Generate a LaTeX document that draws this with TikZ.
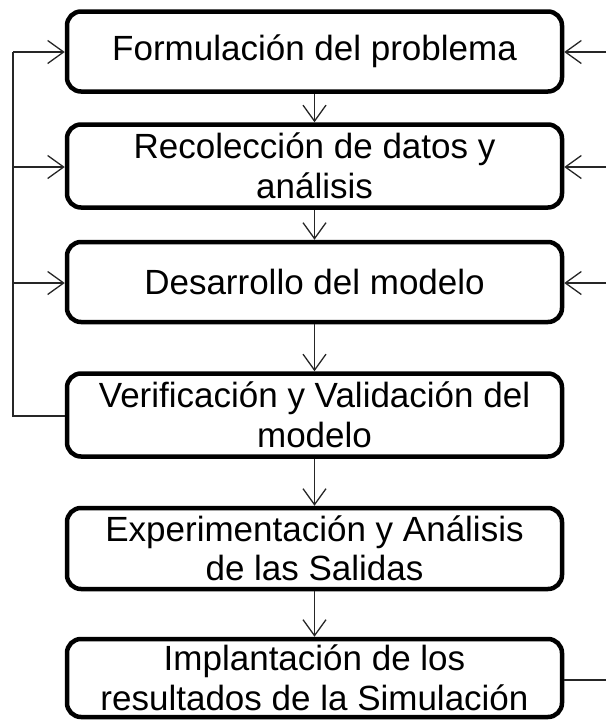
\documentclass[tikz,border=0pt]{standalone}
\usepackage{fontspec}
\setmainfont{Liberation Sans}
\usetikzlibrary{arrows.meta}
\begin{document}
\begin{tikzpicture}[x=1pt,y=-1pt,
  stagebox/.style={draw, line width=4.5pt, rounded corners=14pt, minimum width=495pt,
    align=center, inner sep=0pt, font=\fontsize{35}{39.5}\selectfont},
  link/.style={line width=1.3pt, draw=black!85, -{Straight Barb[length=16pt,width=23pt,line width=1.3pt]}},
  plain/.style={line width=1.3pt, draw=black!85}]
\useasboundingbox (0,0) rectangle (606,721);
\node[stagebox, minimum height=80pt] (b1) at (314.5,51.5) {Formulación del problema};
\node[stagebox, minimum height=83pt] (b2) at (314.5,166) {Recolección de datos y\\análisis};
\node[stagebox, minimum height=80pt] (b3) at (314.5,282) {Desarrollo del modelo};
\node[stagebox, minimum height=83pt] (b4) at (314.5,415) {Verificación y Validación del\\modelo};
\node[stagebox, minimum height=81pt] (b5) at (314.5,548.5) {Experimentación y Análisis\\de las Salidas};
\node[stagebox, minimum height=78pt] (b6) at (314.5,678) {Implantación de los\\resultados de la Simulación};
\draw[link] (b1.south) -- (b2.north);
\draw[link] (b2.south) -- (b3.north);
\draw[link] (b3.south) -- (b4.north);
\draw[link] (b4.south) -- (b5.north);
\draw[link] (b5.south) -- (b6.north);
% left feedback
\coordinate (lbot) at (13,416);
\coordinate (ltop) at (13,52);
\draw[plain] (b4.west |- lbot) -- (lbot) -- (ltop);
\draw[link] (ltop) -- (b1.west |- ltop);
\draw[link] (13,167) -- (b2.west |- 0,167);
\draw[link] (13,283) -- (b3.west |- 0,283);
% right inputs
\coordinate (r1) at (606,52);
\coordinate (r2) at (606,167);
\coordinate (r3) at (606,283);
\coordinate (r6) at (606,680);
\draw[link] (r1) -- (b1.east |- r1);
\draw[link] (r2) -- (b2.east |- r2);
\draw[link] (r3) -- (b3.east |- r3);
\draw[plain] (b6.east |- r6) -- (r6);
\end{tikzpicture}
\end{document}
